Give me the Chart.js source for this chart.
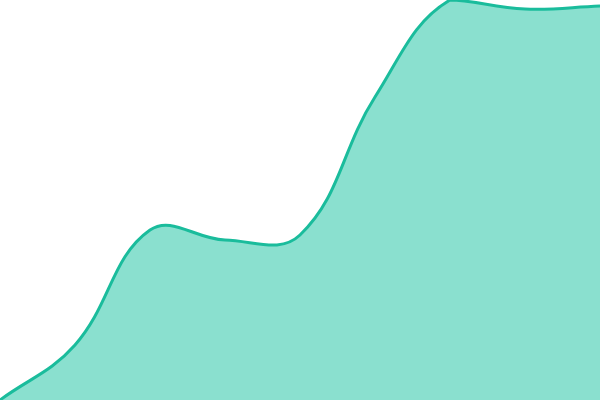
<!DOCTYPE html>
<html>
<head>
<meta charset="utf-8">
<script src="https://cdn.jsdelivr.net/npm/chart.js@4"></script>
<style>
  html, body { margin: 0; padding: 0; background: #fff; }
  #grafico { width: 600px; height: 400px; }
</style>
</head>
<body>
<div id="grafico"><canvas id="areaChart"></canvas></div>
<script>
// datos
const etiquetas = ['1', '2', '3', '4', '5', '6', '7', '8', '9'];
const valores = [0, 55, 170, 160, 165, 303, 400, 391, 394];
const minY = 0, maxY = 400;

const ctx = document.getElementById('areaChart').getContext('2d');
new Chart(ctx, {
    type: 'line',
    data: {
        labels: etiquetas,
        datasets: [{
            data: valores,
            borderColor: '#1abc9c',
            backgroundColor: '#8ae0cf',
            borderWidth: 3,
            fill: true,
            tension: 0.4,
            pointRadius: 0
        }]
    },
    options: {
        responsive: true,
        maintainAspectRatio: false,
        animation: false,
        layout: { padding: 0 },
        plugins: {
            legend: { display: false },
            tooltip: { enabled: false }
        },
        scales: {
            x: { display: false },
            y: { display: false, min: minY, max: maxY }
        }
    }
});
</script>
</body>
</html>
